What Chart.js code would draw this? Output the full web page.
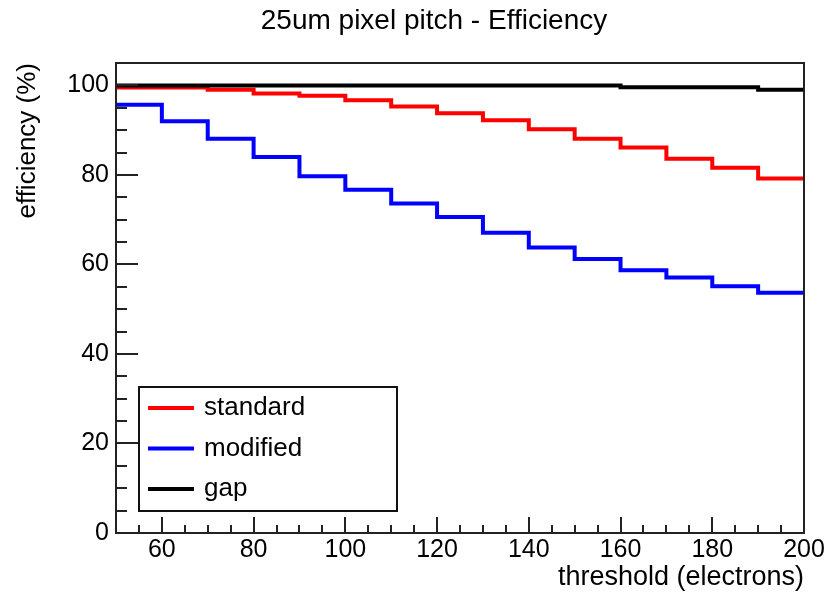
<!DOCTYPE html>
<html>
<head>
<meta charset="utf-8">
<title>25um pixel pitch - Efficiency</title>
<script src="https://cdn.jsdelivr.net/npm/chart.js@4.4.1/dist/chart.umd.min.js"></script>
<style>
  html, body { margin: 0; padding: 0; background: #fff; }
  #wrap { width: 833px; height: 599px; }
</style>
</head>
<body>
<div id="wrap"><canvas id="effChart" width="833" height="599"></canvas></div>
<script>
// Bin lower edges (electrons), every bin is 10 electrons wide
const thresholds = [50, 60, 70, 80, 90, 100, 110, 120, 130, 140, 150, 160, 170, 180, 190];
const binWidth = 10;

// Efficiency (%) per bin
const standard = [99.5, 99.5, 99.0, 98.2, 97.7, 96.7, 95.3, 93.8, 92.2, 90.2, 88.1, 86.1, 83.6, 81.6, 79.2];
const modified = [95.7, 92.0, 88.1, 84.0, 79.7, 76.7, 73.6, 70.6, 67.1, 63.8, 61.2, 58.7, 57.1, 55.1, 53.7];
const gap      = [100.0, 100.0, 100.0, 100.0, 100.0, 100.0, 100.0, 100.0, 100.0, 100.0, 100.0, 99.6, 99.6, 99.6, 99.0];

// Labelled ticks
const xTicks = [60, 80, 100, 120, 140, 160, 180, 200];
const yTicks = [0, 20, 40, 60, 80, 100];

Chart.defaults.font.family = '"Liberation Sans", Arial, sans-serif';
Chart.defaults.color = '#000';

// turn a list of bin values into step points (one extra point closes the last bin)
function histPoints(values) {
    const pts = thresholds.map((x, i) => ({ x: x, y: values[i] }));
    pts.push({ x: thresholds[thresholds.length - 1] + binWidth, y: values[values.length - 1] });
    return pts;
}

// the original canvas title sits a bit right of the page centre
const titleShift = {
    id: 'titleShift',
    afterLayout(chart) {
        const t = chart.titleBlock;
        if (t) {
            t.left = 35;
            t.right = chart.width;
        }
    }
};

// ROOT-like frame with ticks pointing into the plot
const rootFrame = {
    id: 'rootFrame',
    afterDatasetsDraw(chart) {
        const { ctx, chartArea: a } = chart;
        const x = chart.scales.x;
        const y = chart.scales.y;
        ctx.save();
        ctx.strokeStyle = '#222';
        ctx.lineWidth = 2;
        ctx.beginPath();
        for (let v = y.min; v <= y.max; v += 5) {
            const py = Math.round(y.getPixelForValue(v));
            const len = yTicks.includes(v) ? 22 : 11;
            ctx.moveTo(a.left, py);
            ctx.lineTo(a.left + len, py);
        }
        for (let v = x.min; v <= x.max; v += 5) {
            const px = Math.round(x.getPixelForValue(v));
            const len = xTicks.includes(v) ? 16 : 8;
            ctx.moveTo(px, a.bottom);
            ctx.lineTo(px, a.bottom - len);
        }
        ctx.stroke();
        ctx.strokeRect(a.left, a.top, a.right - a.left, a.bottom - a.top);
        ctx.restore();
    }
};

// boxed legend sitting in the lower left of the plot
const boxLegend = {
    id: 'boxLegend',
    afterDraw(chart) {
        const { ctx, chartArea: a } = chart;
        const left = a.left + 23;
        const top = a.top + 324;
        ctx.save();
        ctx.fillStyle = '#fff';
        ctx.fillRect(left, top, 258, 124);
        ctx.strokeStyle = '#111';
        ctx.lineWidth = 2;
        ctx.strokeRect(left, top, 258, 124);
        ctx.font = '26px "Liberation Sans", Arial, sans-serif';
        ctx.textBaseline = 'middle';
        ctx.textAlign = 'left';
        chart.data.datasets.forEach((ds, i) => {
            const cy = top + 21 + i * 40.5;
            ctx.strokeStyle = ds.borderColor;
            ctx.lineWidth = 4;
            ctx.beginPath();
            ctx.moveTo(left + 9, cy);
            ctx.lineTo(left + 55, cy);
            ctx.stroke();
            ctx.fillStyle = '#000';
            ctx.fillText(ds.label, left + 65, cy);
        });
        ctx.restore();
    }
};

const ctx = document.getElementById('effChart').getContext('2d');
const effChart = new Chart(ctx, {
    type: 'line',
    data: {
        datasets: [
            { label: 'standard', data: histPoints(standard), borderColor: '#ff0000', order: 1 },
            { label: 'modified', data: histPoints(modified), borderColor: '#0000ff', order: 2 },
            { label: 'gap', data: histPoints(gap), borderColor: '#000000', order: 0 }
        ]
    },
    options: {
        responsive: false,
        animation: false,
        datasets: {
            line: {
                stepped: 'before',
                borderWidth: 4,
                pointRadius: 0,
                fill: false,
                tension: 0
            }
        },
        layout: {
            padding: { left: 0, right: 29, top: 0, bottom: 0 }
        },
        plugins: {
            legend: { display: false },
            tooltip: { enabled: false },
            title: {
                display: true,
                text: '25um pixel pitch - Efficiency',
                color: '#000',
                font: { size: 28, weight: 'normal' },
                padding: { top: 4, bottom: 25.4 }
            }
        },
        scales: {
            x: {
                type: 'linear',
                min: 50,
                max: 200,
                afterBuildTicks(scale) { scale.ticks = xTicks.map(v => ({ value: v })); },
                afterFit(scale) { scale.height = 66; },
                grid: { display: false, drawTicks: false },
                border: { display: false },
                ticks: { padding: 2, autoSkip: false, maxRotation: 0, font: { size: 25 } },
                title: {
                    display: true,
                    text: 'threshold (electrons)',
                    align: 'end',
                    font: { size: 27 },
                    padding: { top: 0, bottom: 5 }
                }
            },
            y: {
                type: 'linear',
                min: 0,
                max: 105,
                afterBuildTicks(scale) { scale.ticks = yTicks.map(v => ({ value: v })); },
                afterFit(scale) { scale.width = 116; },
                grid: { display: false, drawTicks: false },
                border: { display: false },
                ticks: { padding: 7, font: { size: 25 } },
                title: {
                    display: true,
                    text: 'efficiency (%)',
                    align: 'end',
                    font: { size: 26 },
                    padding: { top: 12, bottom: 0 }
                }
            }
        }
    },
    plugins: [titleShift, rootFrame, boxLegend]
});
</script>
</body>
</html>
